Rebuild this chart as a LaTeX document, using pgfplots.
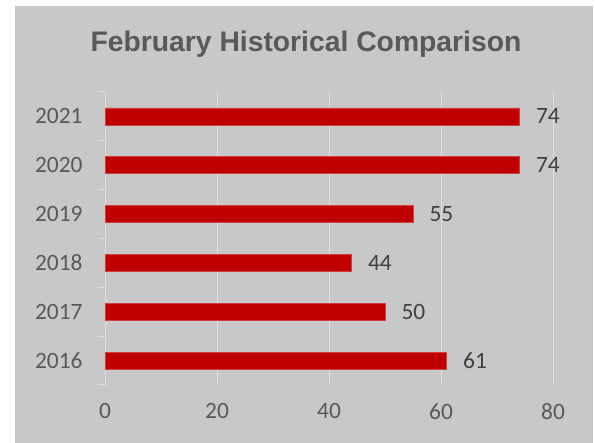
\documentclass[border=0pt]{standalone}
\usepackage{pgfplots}
\pgfplotsset{compat=1.18}
\usepackage{fontspec}
\setmainfont{Carlito}
\newfontfamily\titlefont{Liberation Sans}
\definecolor{bg}{HTML}{C8C8C8}
\definecolor{barred}{HTML}{C00000}
\definecolor{lbl}{HTML}{595959}
\definecolor{val}{HTML}{404040}
\definecolor{gridc}{HTML}{DEDEDE}

\begin{document}
\begin{tikzpicture}[x=1bp,y=1bp]
\fill[white] (0,0) rectangle (595,443);
\fill[bg] (15,0) rectangle (593,437);
\node[font=\titlefont\bfseries\fontsize{28.4}{32}\selectfont, text=lbl] at (306,399) {February Historical Comparison};
\begin{axis}[
    at={(105bp,58bp)}, anchor=south west,
    scale only axis, width=448bp, height=293bp,
    xbar, bar width=17bp,
    xmin=0, xmax=80, ymin=-0.5, ymax=5.5,
    xtick={0,20,...,80},
    ytick={0,...,5},
    yticklabels={2016,2017,2018,2019,2020,2021},
    minor ytick={-0.5,0.5,...,5.5},
    axis line style={draw=none},
    xmajorgrids, grid style={draw=gridc, line width=1bp},
    tick style={draw=gridc, line width=1bp},
    major tick length=0pt, minor tick length=7bp, tick align=outside,
    ytick pos=left, xtick pos=bottom,
    /pgf/number format/assume math mode=true,
    ticklabel style={font=\fontsize{23.5}{27}\selectfont, text=lbl},
    yticklabel style={xshift=-19bp},
    xticklabel style={yshift=-15bp},
    nodes near coords,
    nodes near coords style={font=\fontsize{23.5}{27}\selectfont, text=val, xshift=13bp},
    clip=false,
]
\addplot[fill=barred, draw=barred!75!white, line width=0.6bp]
    coordinates {(61,0) (50,1) (44,2) (55,3) (74,4) (74,5)};
\end{axis}
\pgfresetboundingbox
\path[use as bounding box] (0,0) rectangle (595,443);
\end{tikzpicture}
\end{document}
